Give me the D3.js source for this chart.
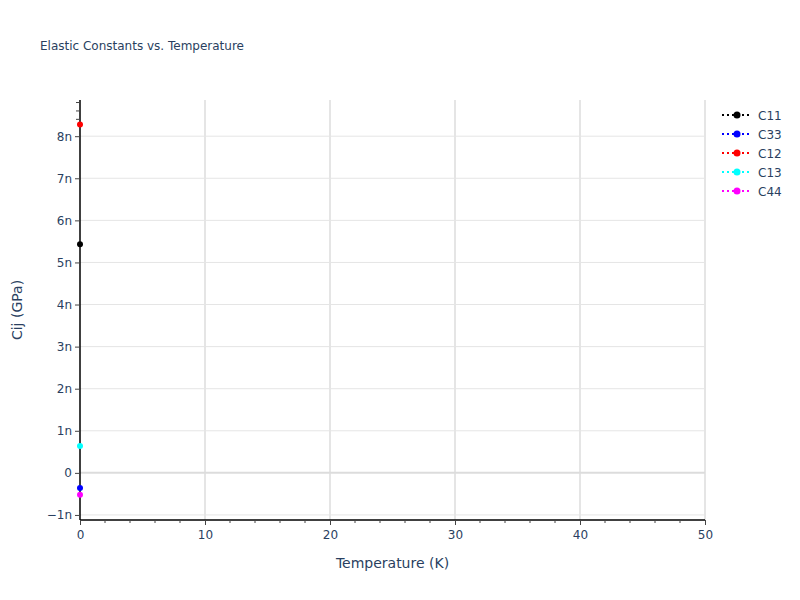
<!DOCTYPE html>
<html><head><meta charset="utf-8">
<script src="https://cdn.jsdelivr.net/npm/d3@7"></script>
<style>body{margin:0;background:#fff}text{font-family:"DejaVu Sans",Verdana,sans-serif}</style>
</head><body>
<svg id="c" width="800" height="600"></svg>
<script>
const seriesNames = ["C11","C33","C12","C13","C44"];
const seriesColors = ["black","blue","red","cyan","magenta"];
const temperatures = [0];
const C11 = [5.43e-9];
const C33 = [-0.36e-9];
const C12 = [8.28e-9];
const C13 = [0.64e-9];
const C44 = [-0.52e-9];
const seriesValues = [C11,C33,C12,C13,C44];
const xTicks = [0,10,20,30,40,50];
const yTicks = [-1e-9,0,1e-9,2e-9,3e-9,4e-9,5e-9,6e-9,7e-9,8e-9];
const yTickLabels = ["−1n","0","1n","2n","3n","4n","5n","6n","7n","8n"];
const yMinorTicks = [8.4e-9,8.6e-9,8.8e-9];

const svg = d3.select("#c");
const L=80,R=705,T=100,B=520;
const x = d3.scaleLinear().domain([0,50]).range([L,R]);
const y = d3.scaleLinear().domain([-1.12e-9,8.86e-9]).range([B,T]);
const txt="#2a3f5f";
const FF="DejaVu Sans, Verdana, sans-serif";

// grid
svg.append("g").selectAll("line").data(xTicks.slice(1)).join("line")
 .attr("x1",d=>x(d)).attr("x2",d=>x(d)).attr("y1",T).attr("y2",B)
 .attr("stroke","#e5e5e5").attr("stroke-width",2);
svg.append("g").selectAll("line").data(yTicks.filter(d=>d!==0)).join("line")
 .attr("x1",L).attr("x2",R).attr("y1",d=>y(d)).attr("y2",d=>y(d))
 .attr("stroke","#e5e5e5").attr("stroke-width",1);
svg.append("line").attr("x1",L).attr("x2",R).attr("y1",y(0)).attr("y2",y(0))
 .attr("stroke","#dcdcdc").attr("stroke-width",2);

// axes
const xAxis = d3.axisBottom(x).tickValues(xTicks).tickSize(5).tickPadding(5).tickFormat(d3.format("d"));
const gx = svg.append("g").attr("transform",`translate(0,${B})`).call(xAxis);
const xMinor = d3.range(0,51,2).filter(d=>d%10!==0);
gx.selectAll(".minor").data(xMinor).join("line").attr("class","minor")
 .attr("x1",d=>x(d)).attr("x2",d=>x(d)).attr("y1",0).attr("y2",3).attr("stroke","#444");
const yAxis = d3.axisLeft(y).tickValues(yTicks).tickSize(5).tickPadding(3).tickFormat((d,i)=>yTickLabels[i]);
const gy = svg.append("g").attr("transform",`translate(${L},0)`).call(yAxis);
gy.selectAll(".minor").data(yMinorTicks).join("line").attr("class","minor")
 .attr("x1",-4).attr("x2",0).attr("y1",d=>y(d)).attr("y2",d=>y(d)).attr("stroke","#444");
[gx,gy].forEach(g=>{
 g.select(".domain").attr("stroke","#000").attr("stroke-width",1.5);
 g.selectAll(".tick line").attr("stroke","#444");
 g.selectAll(".tick text").attr("fill",txt).attr("font-size",12).attr("font-family",FF);
});
gx.select(".domain").attr("d",`M${L},0H${R}`);
gy.select(".domain").attr("d",`M0,${T}V${B}`);

// series
seriesNames.forEach((n,i)=>{
 const vals = seriesValues[i];
 const pts = temperatures.map((t,j)=>[t,vals[j]]);
 svg.append("path").datum(pts).attr("fill","none").attr("stroke",seriesColors[i])
  .attr("stroke-width",2).attr("stroke-dasharray","2,3")
  .attr("d",d3.line().x(d=>x(d[0])).y(d=>y(d[1])));
 svg.append("g").selectAll("circle").data(pts).join("circle")
  .attr("cx",d=>x(d[0])).attr("cy",d=>y(d[1])).attr("r",3).attr("fill",seriesColors[i]);
});

// legend
const lg = svg.append("g");
seriesNames.forEach((n,i)=>{
 const yy = 115 + i*19;
 lg.append("line").attr("x1",722).attr("x2",752).attr("y1",yy).attr("y2",yy)
  .attr("stroke",seriesColors[i]).attr("stroke-width",2).attr("stroke-dasharray","2,3");
 lg.append("circle").attr("cx",737).attr("cy",yy).attr("r",3.5).attr("fill",seriesColors[i]);
 lg.append("text").attr("x",758).attr("y",yy+4.5).attr("font-size",12).attr("fill",txt).text(n);
});

// titles
svg.append("text").attr("x",40).attr("y",50).attr("font-size",12).attr("fill",txt).text("Elastic Constants vs. Temperature");
svg.append("text").attr("x",(L+R)/2).attr("y",568).attr("text-anchor","middle").attr("font-size",14).attr("fill",txt).text("Temperature (K)");
svg.append("text").attr("transform",`translate(22,${(T+B)/2}) rotate(-90)`).attr("text-anchor","middle").attr("font-size",14).attr("fill",txt).text("Cij (GPa)");
</script>
</body></html>
